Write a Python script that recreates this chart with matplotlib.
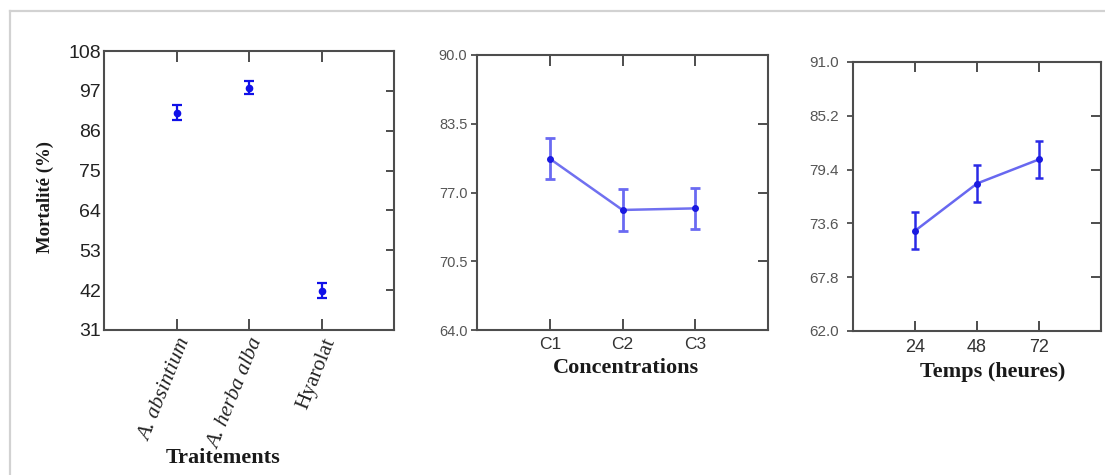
import matplotlib
matplotlib.use("Agg")
import matplotlib.pyplot as plt
from matplotlib.lines import Line2D
from matplotlib.ticker import FormatStrFormatter

# ---- data ----
treatments = ["A. absintium", "A. herba alba", "Hyarolat"]
treat_italic = [True, True, False]
mort_mean = [91.0, 97.9, 41.9]
mort_err = [2.1, 1.9, 2.0]
mort_ticks = [31, 42, 53, 64, 75, 86, 97, 108]

concentrations = ["C1", "C2", "C3"]
conc_mean = [80.2, 75.35, 75.5]
conc_err = [1.95, 1.95, 1.95]
conc_ticks = [64.0, 70.5, 77.0, 83.5, 90.0]

hours = [24, 48, 72]
time_mean = [72.8, 77.9, 80.5]
time_err = [2.0, 2.0, 2.0]
time_ticks = [62.0, 67.8, 73.6, 79.4, 85.2, 91.0]

W, H = 1105, 475
fig = plt.figure(figsize=(W / 100, H / 100), dpi=100)
fig.patch.set_facecolor("white")

# figure frame (top and left light-gray lines)
fig.add_artist(Line2D([10 / W, 10 / W], [0, 1 - 11 / H], transform=fig.transFigure,
                      color="#d2d2d2", lw=1.6))
fig.add_artist(Line2D([10 / W, 1], [1 - 11 / H, 1 - 11 / H], transform=fig.transFigure,
                      color="#d2d2d2", lw=1.6))

def ax_at(l, r, t, b):
    return fig.add_axes([l / W, 1 - b / H, (r - l) / W, (b - t) / H])

spine_col = "#4d4d4d"
serif = "Liberation Serif"
sans = "Liberation Sans"

def style_spines(ax):
    for s in ax.spines.values():
        s.set_color(spine_col)
        s.set_linewidth(1.5)

# ---- panel 1 ----
ax1 = ax_at(104, 394, 51, 330)
style_spines(ax1)
x1 = [1, 2, 3]
ax1.errorbar(x1, mort_mean, yerr=mort_err, fmt="o", color="#1010e8", ms=4.5,
             capsize=3.6, elinewidth=1.6, capthick=1.6)
ax1.set_xlim(0, 4)
ax1.set_ylim(31, 108)
ax1.set_yticks(mort_ticks)
ax1.set_yticklabels([str(v) for v in mort_ticks], fontfamily=sans, fontsize=14, color="#222222")
ax1.tick_params(axis="y", which="both", left=False, right=True, direction="in", length=6,
                width=1.4, color=spine_col, pad=2)
ax1.set_xticks(x1)
ax1.set_xticklabels([])
ax1.tick_params(axis="x", which="both", bottom=True, top=True, direction="in", length=8,
                width=1.4, color=spine_col)
for xi, lab, it in zip(x1, treatments, treat_italic):
    ax1.text(xi + 0.0, 31 - 1.5, lab, transform=ax1.transData, rotation=68,
             ha="right", va="top", rotation_mode="anchor", fontfamily=serif,
             fontstyle="italic" if it else "normal", fontsize=15.5, color="#222222",
             clip_on=False)
fig.text(223 / W, 1 - 458 / H, "Traitements", ha="center", va="center",
         fontfamily=serif, fontweight="bold", fontsize=16, color="#1a1a1a")
fig.text(45 / W, 1 - 197 / H, "Mortalité (%)", ha="center", va="center", rotation=90,
         fontfamily=serif, fontweight="bold", fontsize=13.5, color="#1a1a1a")

# ---- panel 2 ----
ax2 = ax_at(477, 768, 55, 330)
style_spines(ax2)
x2 = [1, 2, 3]
ax2.plot(x2, conc_mean, color="#7070f0", lw=1.8, zorder=2)
ax2.errorbar(x2, conc_mean, yerr=conc_err, fmt="o", color="#1a1ae0", ms=4,
             ecolor="#6a6af2", capsize=3.6, elinewidth=2, capthick=2, zorder=3)
ax2.set_xlim(0, 4)
ax2.set_ylim(64, 90)
ax2.set_yticks(conc_ticks)
ax2.yaxis.set_major_formatter(FormatStrFormatter("%.1f"))
for lab in ax2.get_yticklabels():
    lab.set_fontfamily(sans)
ax2.tick_params(axis="y", left=True, right=False, direction="out", length=4, width=1.3,
                color=spine_col, labelsize=10.5, labelcolor="#555555", pad=3)
ax2.set_xticks(x2)
ax2.set_xticklabels(concentrations, fontfamily=sans, fontsize=12.5, color="#333333")
ax2.tick_params(axis="x", bottom=True, top=True, direction="in", length=8, width=1.4,
                color=spine_col, pad=5)
ax2r = ax2.twinx()
ax2r.set_ylim(64, 90)
ax2r.set_yticks(conc_ticks)
ax2r.set_yticklabels([])
ax2r.tick_params(axis="y", direction="in", length=7, width=1.4, color=spine_col)
for s in ax2r.spines.values():
    s.set_visible(False)
fig.text(626 / W, 1 - 368 / H, "Concentrations", ha="center", va="center",
         fontfamily=serif, fontweight="bold", fontsize=16, color="#1a1a1a")

# ---- panel 3 ----
ax3 = ax_at(853, 1101, 62, 331)
style_spines(ax3)
ax3.plot(hours, time_mean, color="#6868f0", lw=1.8, zorder=2)
ax3.errorbar(hours, time_mean, yerr=time_err, fmt="o", color="#1a1ae0", ms=4,
             ecolor="#2a2ae6", capsize=3.2, elinewidth=1.8, capthick=1.8, zorder=3)
ax3.set_xlim(0, 96)
ax3.set_ylim(62, 91)
ax3.set_yticks(time_ticks)
ax3.yaxis.set_major_formatter(FormatStrFormatter("%.1f"))
for lab in ax3.get_yticklabels():
    lab.set_fontfamily(sans)
ax3.tick_params(axis="y", left=True, right=False, direction="out", length=4, width=1.3,
                color=spine_col, labelsize=11, labelcolor="#555555", pad=6)
ax3.set_xticks(hours)
ax3.set_xticklabels([str(h) for h in hours], fontfamily=sans, fontsize=13, color="#333333")
ax3.tick_params(axis="x", bottom=True, top=True, direction="in", length=7, width=1.4,
                color=spine_col, pad=6)
ax3r = ax3.twinx()
ax3r.set_ylim(62, 91)
ax3r.set_yticks(time_ticks)
ax3r.set_yticklabels([])
ax3r.tick_params(axis="y", direction="in", length=7, width=1.4, color=spine_col)
for s in ax3r.spines.values():
    s.set_visible(False)
fig.text(993 / W, 1 - 372 / H, "Temps (heures)", ha="center", va="center",
         fontfamily=serif, fontweight="bold", fontsize=16, color="#1a1a1a")

fig.savefig("out.png", dpi=100, facecolor="white")
